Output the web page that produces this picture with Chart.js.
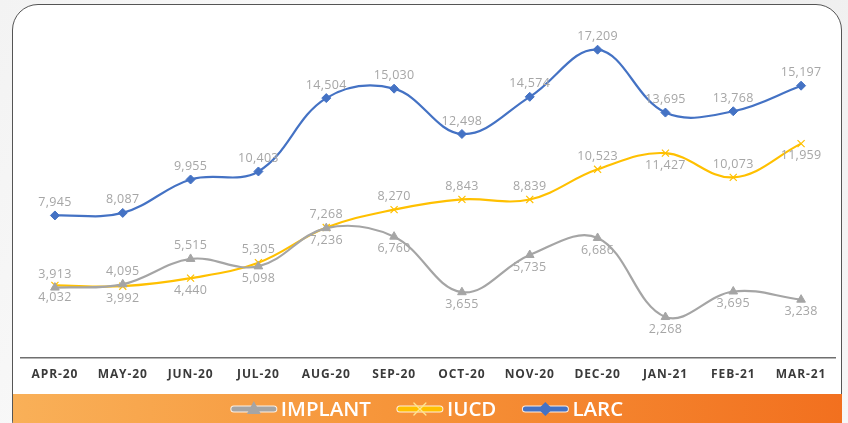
<!DOCTYPE html>
<html>
<head>
<meta charset="utf-8">
<script src="https://cdn.jsdelivr.net/npm/chart.js@4.4.1/dist/chart.umd.min.js"></script>
<style>
  html, body { margin: 0; padding: 0; }
  body {
    width: 848px; height: 423px; overflow: hidden; position: relative;
    background: linear-gradient(120deg, #f3f3f3 0%, #fbfbfb 40%, #eeeeee 70%, #f7f7f7 100%);
  }
  .frame {
    position: absolute; left: 12px; top: 4px; width: 828px; height: 440px;
    border: 1.5px solid #555; border-radius: 26px; background: #fff;
  }
  .band {
    position: absolute; left: 13px; top: 394px; width: 829px; height: 29px;
    background: linear-gradient(90deg, #f9b058 0%, #f6953a 45%, #f2701f 100%);
  }
  #chart { position: absolute; left: 0; top: 0; }
</style>
</head>
<body>
<div class="frame"></div>
<div class="band"></div>
<canvas id="chart" width="848" height="423"></canvas>
<script>
// Monthly LARC figures (LARC = IMPLANT + IUCD)
const months = ['APR-20', 'MAY-20', 'JUN-20', 'JUL-20', 'AUG-20', 'SEP-20',
                'OCT-20', 'NOV-20', 'DEC-20', 'JAN-21', 'FEB-21', 'MAR-21'];
const implant = [3913, 4095, 5515, 5098, 7236, 6760, 3655, 5735, 6686, 2268, 3695, 3238];
const iucd = [4032, 3992, 4440, 5305, 7268, 8270, 8843, 8839, 10523, 11427, 10073, 11959];
const larc = [7945, 8087, 9955, 10403, 14504, 15030, 12498, 14574, 17209, 13695, 13768, 15197];

// where each value label sits relative to its point
const implantLabelPos = ['up', 'up', 'up', 'down', 'down', 'down', 'down', 'down', 'down', 'down', 'down', 'down'];
const iucdLabelPos = ['down', 'down', 'down', 'up', 'up', 'up', 'up', 'up', 'up', 'down', 'up', 'down'];
const larcLabelPos = months.map(() => 'up');

const GREY = '#a5a5a5';
const YELLOW = '#ffc000';
const BLUE = '#4472c4';
const FONT = '"Open Sans", sans-serif';

// legend icon: thick line with the marker in the middle
function drawIcon(g, x, y, color, style) {
    g.save();
    g.lineCap = 'round';
    g.strokeStyle = 'rgba(255,255,255,0.85)';
    g.lineWidth = 7;
    g.beginPath(); g.moveTo(x + 3, y); g.lineTo(x + 43, y); g.stroke();
    g.strokeStyle = color;
    g.lineWidth = 5;
    g.beginPath(); g.moveTo(x + 3, y); g.lineTo(x + 43, y); g.stroke();
    g.fillStyle = color;
    const cx = x + 23;
    if (style === 'triangle') {
        g.beginPath(); g.moveTo(cx, y - 8); g.lineTo(cx + 7, y + 5); g.lineTo(cx - 7, y + 5); g.closePath(); g.fill();
    } else if (style === 'rectRot') {
        g.beginPath(); g.moveTo(cx, y - 7); g.lineTo(cx + 7, y); g.lineTo(cx, y + 7); g.lineTo(cx - 7, y); g.closePath(); g.fill();
    } else {
        g.lineWidth = 1.3;
        g.strokeStyle = '#ffe58f';
        g.beginPath();
        g.moveTo(cx - 6, y - 6); g.lineTo(cx + 6, y + 6);
        g.moveTo(cx + 6, y - 6); g.lineTo(cx - 6, y + 6);
        g.stroke();
    }
    g.restore();
}

// wider tracking for the month labels, like the original
const tracking = {
    id: 'tracking',
    beforeDraw(chart) { chart.ctx.letterSpacing = '0.9px'; },
    beforeDatasetsDraw(chart) { chart.ctx.letterSpacing = '0px'; }
};

const bandLegend = {
    id: 'bandLegend',
    afterDraw(chart, args, opts) {
        const ctx = chart.ctx;
        ctx.save();
        ctx.letterSpacing = '0px';
        ctx.font = '600 20.5px ' + FONT;
        ctx.fillStyle = '#ffffff';
        ctx.textBaseline = 'middle';
        const items = chart.data.datasets.map(ds => ({ ds, w: 46 + 4 + ctx.measureText(ds.label).width }));
        const total = items.reduce((s, it) => s + it.w, 0) + 26 * (items.length - 1);
        let x = opts.centerX - total / 2;
        items.forEach(it => {
            drawIcon(ctx, x, opts.y, it.ds.borderColor, it.ds.pointStyle);
            ctx.fillText(it.ds.label, x + 50, opts.y + 1);
            x += it.w + 26;
        });
        ctx.restore();
    }
};

const valueLabels = {
    id: 'valueLabels',
    afterDatasetsDraw(chart) {
        const ctx = chart.ctx;
        ctx.save();
        ctx.letterSpacing = '0.3px';
        ctx.font = '12.5px ' + FONT;
        ctx.fillStyle = '#a6a6a6';
        ctx.textAlign = 'center';
        ctx.textBaseline = 'middle';
        chart.data.datasets.forEach((ds, di) => {
            const meta = chart.getDatasetMeta(di);
            meta.data.forEach((pt, i) => {
                const dy = ds.labelPos[i] === 'up' ? -13 : 12;
                ctx.fillText(ds.data[i].toLocaleString('en-US'), pt.x, pt.y + dy);
            });
        });
        ctx.restore();
    }
};

const chart = new Chart(document.getElementById('chart'), {
    type: 'line',
    data: {
        labels: months,
        datasets: [
            { label: 'IMPLANT', data: implant, labelPos: implantLabelPos, borderColor: GREY, backgroundColor: GREY,
              pointStyle: 'triangle', pointRadius: 5 },
            { label: 'IUCD', data: iucd, labelPos: iucdLabelPos, borderColor: YELLOW, backgroundColor: YELLOW,
              pointStyle: 'crossRot', pointRadius: 5, pointBorderWidth: 1.2 },
            { label: 'LARC', data: larc, labelPos: larcLabelPos, borderColor: BLUE, backgroundColor: BLUE,
              pointStyle: 'rectRot', pointRadius: 4.5 }
        ]
    },
    options: {
        responsive: false,
        animation: false,
        layout: { padding: { left: 21, right: 13, top: 0, bottom: 31 } },
        elements: {
            line: { borderWidth: 2.2, tension: 0.38, fill: false },
            point: { borderWidth: 1 }
        },
        scales: {
            x: {
                offset: true,
                grid: { display: false, drawTicks: false },
                border: { display: true, color: '#6f6f6f', width: 1.5 },
                ticks: {
                    padding: 10,
                    color: '#3a3a3a',
                    font: { family: FONT, size: 12, weight: 'bold' }
                }
            },
            y: { display: false, min: 0, max: 19640 }
        },
        plugins: {
            tooltip: { enabled: false },
            legend: { display: false },
            bandLegend: { centerX: 427, y: 409 }
        }
    },
    plugins: [tracking, valueLabels, bandLegend]
});
</script>
</body>
</html>
